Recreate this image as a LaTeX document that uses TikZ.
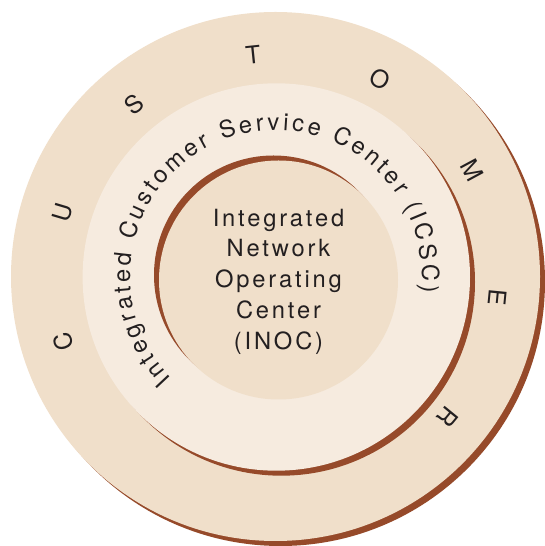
\documentclass[tikz,border=0pt]{standalone}
\usepackage{fontspec}
\setmainfont{TeX Gyre Heros}
\newfontfamily\spaced{TeX Gyre Heros}[LetterSpace=12]
\usetikzlibrary{decorations.text}
\definecolor{tan}{HTML}{F0DFCA}
\definecolor{cream}{HTML}{F6EBDF}
\definecolor{rust}{HTML}{964A2A}
\definecolor{ink}{HTML}{231F20}
\tikzset{
  disc/.style={fill=#1, draw=none},
  shade/.style={fill=rust, draw=none},
  lab/.style={text=ink, font=\fontsize{24.5}{28}\selectfont, inner sep=0pt},
  core/.style={text=ink, font=\spaced\fontsize{23.7}{30.8}\selectfont, align=center, inner sep=0pt},
}

\begin{document}
\begin{tikzpicture}[x=1pt,y=1pt]
  \useasboundingbox (0,0) rectangle (545,546);
  \coordinate (O) at (276,270);
  \fill[shade] (280.5,264.5) circle (264.5pt);
  \fill[disc=tan] (275.5,269.5) circle (264.5pt);
  \fill[shade] (281.3,264) circle (193.7pt);
  \fill[disc=cream] (276.3,269) circle (193.7pt);
  \fill[shade] (273.5,271) circle (119.5pt);
  \fill[disc=tan] (278.5,266) circle (119.5pt);
  \foreach \l [count=\i from 0] in {C,U,S,T,O,M,E,R}{
    \pgfmathsetmacro\a{197.3-33.8*\i}
    \node[lab,rotate=\a-90] (cust\i) at ([shift={(\a:222.5)}]O) {\l};
  }
  \path[decorate,decoration={text along path,text color=ink,
      text={|\fontsize{23.7}{28}\selectfont|Integrated Customer Service Center (ICSC)},
      text align={fit to path}}]
    ([shift={(224.5:146)}]O) arc[start angle=224.5,end angle=-6.5,radius=146pt];
  \node[core] (inoc) at (278.5,264.5) {Integrated\\Network\\Operating\\Center\\(INOC)};
\end{tikzpicture}
\end{document}
